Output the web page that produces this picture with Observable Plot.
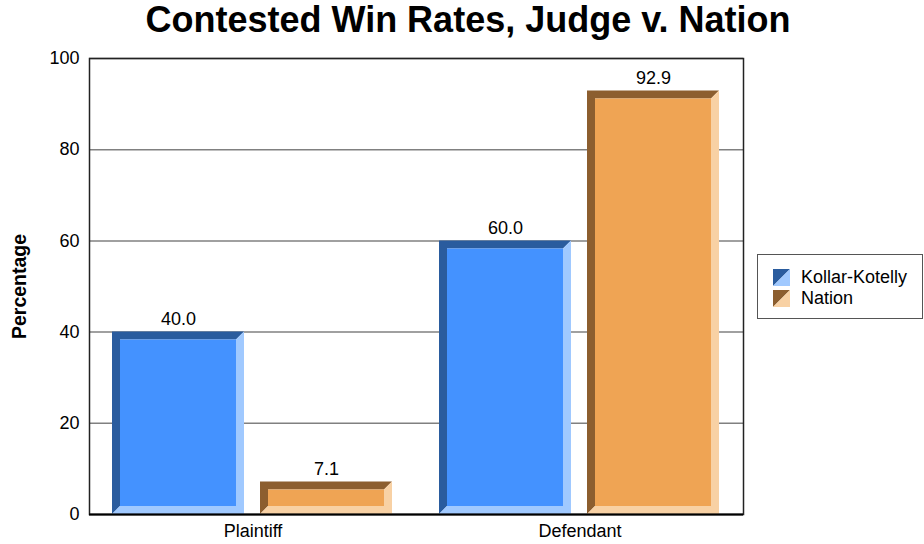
<!DOCTYPE html>
<html>
<head>
<meta charset="utf-8">
<script src="https://cdn.jsdelivr.net/npm/d3@7"></script>
<script src="https://cdn.jsdelivr.net/npm/@observablehq/plot@0.6"></script>
<style>
  html, body { margin: 0; padding: 0; background: #fff; }
  body { width: 924px; height: 544px; position: relative; overflow: hidden; font-family: "Liberation Sans", Arial, sans-serif; }
  #title { height: 40px; line-height: 40px; font-size: 36px; font-weight: bold; text-align: center; padding-left: 12px; color: #000; white-space: nowrap; }
  #legend { position: absolute; left: 757px; top: 254px; width: 166px; height: 65px; box-sizing: border-box; border: 1px solid #555; background: #fff; }
  .item { position: absolute; left: 15px; height: 17px; display: flex; align-items: center; font-size: 18px; color: #000; }
  .item svg { margin-right: 11px; }
  svg [aria-label="y-axis label"] text, svg [aria-label="y-axis label"] { font-weight: bold; font-size: 19.5px; }
</style>
</head>
<body>
<div id="title">Contested Win Rates, Judge v. Nation</div>
<div id="chart"></div>
<div id="legend"></div>
<script>
// ---- data ----
const categories = ["Plaintiff", "Defendant"];
const seriesNames = ["Kollar-Kotelly", "Nation"];
const kollarKotelly = [40.0, 60.0];
const nation = [7.1, 92.9];
const yTicks = [0, 20, 40, 60, 80, 100];

// ---- styles ----
const palette = {
  "Kollar-Kotelly": {dark: "#2A5C9E", mid: "#4492FF", light: "#A0C9FF"},
  "Nation": {dark: "#8C5E2F", mid: "#EFA454", light: "#F8D1A4"}
};
const BEVEL = 8;

const seriesValues = [kollarKotelly, nation];
const table = [];
categories.forEach((c, ci) => seriesNames.forEach((s, si) => table.push({category: c, series: s, value: seriesValues[si][ci]})));

const NS = "http://www.w3.org/2000/svg";
function poly(doc, pts, fill) {
  const p = doc.createElementNS(NS, "polygon");
  p.setAttribute("points", pts.map(d => d.join(",")).join(" "));
  p.setAttribute("fill", fill);
  return p;
}
function bevel(index, scales, values, dimensions, context, next) {
  const g = next(index, scales, values, dimensions, context);
  const doc = context.document || document;
  const rects = Array.from(g.querySelectorAll("rect"));
  rects.forEach((r, k) => {
    const d = table[index[k]];
    const pal = palette[d.series];
    const x = +r.getAttribute("x"), y = +r.getAttribute("y");
    const w = +r.getAttribute("width"), h = +r.getAttribute("height");
    const b = Math.min(BEVEL, w / 2, h / 2);
    const grp = doc.createElementNS(NS, "g");
    grp.appendChild(poly(doc, [[x, y + h], [x, y], [x + w, y], [x + w - b, y + b], [x + b, y + b], [x + b, y + h - b]], pal.dark));
    grp.appendChild(poly(doc, [[x + w, y], [x + w, y + h], [x, y + h], [x + b, y + h - b], [x + w - b, y + h - b], [x + w - b, y + b]], pal.light));
    grp.appendChild(poly(doc, [[x + b, y + b], [x + w - b, y + b], [x + w - b, y + h - b], [x + b, y + h - b]], pal.mid));
    r.replaceWith(grp);
  });
  return g;
}

const chart = Plot.plot({
  width: 924,
  height: 504,
  marginTop: 18,
  marginBottom: 30,
  marginLeft: 89,
  marginRight: 181,
  style: {fontFamily: "'Liberation Sans', Arial, sans-serif", fontSize: "18px", color: "#000", background: "#fff", overflow: "visible"},
  fx: {domain: categories, padding: 0, label: null},
  x: {domain: seriesNames, paddingInner: 0.108, paddingOuter: 0.155, axis: null},
  y: {domain: [0, 100]},
  color: {domain: seriesNames, range: seriesNames.map(s => palette[s].mid)},
  marks: [
    Plot.gridY(yTicks, {stroke: "#808080", strokeOpacity: 1, strokeWidth: 1.5}),
    Plot.axisY(yTicks, {tickSize: 0, tickPadding: 10, fontSize: 18, label: "Percentage", labelAnchor: "center", labelOffset: 77, labelArrow: "none"}),
    Plot.axisFx({anchor: "bottom", tickSize: 0, tickPadding: 10, fontSize: 18, label: null}),
    Plot.barY(table, {fx: "category", x: "series", y: "value", fill: "series", render: bevel}),
    Plot.text(table, {fx: "category", x: "series", y: "value", text: d => d.value.toFixed(1), dy: -7, lineAnchor: "bottom", fontSize: 18, fill: "#000"}),
    Plot.frame({facet: "super", stroke: "#222", strokeWidth: 1.5}),
    Plot.ruleY([0], {stroke: "#000", strokeWidth: 2})
  ]
});
document.getElementById("chart").appendChild(chart);

// ---- legend ----
const legend = document.getElementById("legend");
seriesNames.forEach((s, i) => {
  const pal = palette[s];
  const item = document.createElement("div");
  item.className = "item";
  item.style.top = (14 + i * 21) + "px";
  item.innerHTML = `<svg width="17" height="17"><polygon points="0,0 17,0 0,17" fill="${pal.dark}"/><polygon points="17,0 17,17 0,17" fill="${pal.light}"/></svg><span>${s}</span>`;
  legend.appendChild(item);
});
</script>
</body>
</html>
